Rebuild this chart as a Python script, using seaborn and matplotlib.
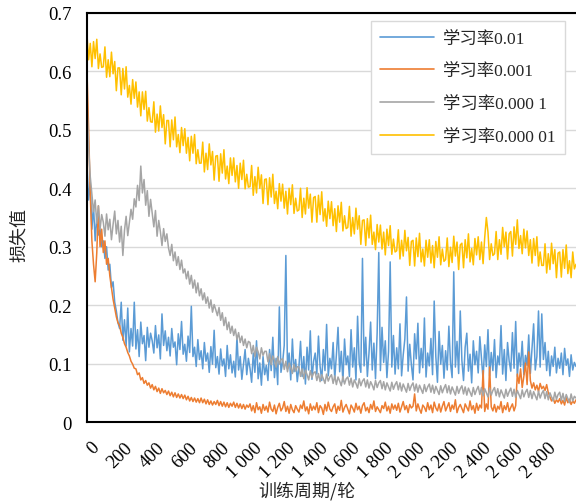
import numpy as np
import pandas as pd
import matplotlib
matplotlib.use("Agg")
import matplotlib.pyplot as plt
from matplotlib.transforms import ScaledTranslation
import seaborn as sns

# ---------------- data (one value every 10 epochs) ----------------
epochs = list(range(0, 3001, 10))

loss_lr_0_01 = [
    0.44, 0.38, 0.41, 0.33, 0.37, 0.31, 0.35, 0.32, 0.33, 0.30,
    0.31, 0.28, 0.30, 0.26, 0.27, 0.23, 0.24, 0.205, 0.19, 0.17,
    0.16, 0.205, 0.14, 0.175, 0.13, 0.195, 0.12, 0.16, 0.13, 0.205,
    0.125, 0.158, 0.112, 0.171, 0.134, 0.148, 0.105, 0.162, 0.128, 0.152,
    0.139, 0.118, 0.165, 0.127, 0.149, 0.108, 0.185, 0.131, 0.156, 0.122,
    0.145, 0.113, 0.16, 0.128, 0.137, 0.098, 0.151, 0.124, 0.172, 0.116,
    0.133, 0.104, 0.147, 0.119, 0.198, 0.112, 0.128, 0.095, 0.141, 0.107,
    0.122, 0.091, 0.136, 0.104, 0.118, 0.085, 0.129, 0.099, 0.157, 0.093,
    0.112, 0.082, 0.125, 0.096, 0.108, 0.078, 0.131, 0.091, 0.115, 0.084,
    0.104, 0.077, 0.146, 0.089, 0.112, 0.073, 0.098, 0.124, 0.081, 0.109,
    0.092, 0.068, 0.118, 0.085, 0.139, 0.074, 0.101, 0.063, 0.112, 0.081,
    0.097, 0.071, 0.124, 0.088, 0.145, 0.076, 0.109, 0.064, 0.197, 0.085,
    0.102, 0.131, 0.285, 0.091, 0.118, 0.072, 0.142, 0.086, 0.107, 0.069,
    0.094, 0.138, 0.078, 0.112, 0.065, 0.128, 0.089, 0.156, 0.073, 0.104,
    0.118, 0.082, 0.147, 0.095, 0.071, 0.124, 0.088, 0.167, 0.079, 0.109,
    0.091, 0.136, 0.074, 0.115, 0.162, 0.086, 0.121, 0.069, 0.142, 0.098,
    0.113, 0.078, 0.158, 0.094, 0.127, 0.072, 0.181, 0.101, 0.085, 0.28,
    0.096, 0.145, 0.078, 0.118, 0.171, 0.089, 0.135, 0.074, 0.152, 0.29,
    0.088, 0.162, 0.102, 0.139, 0.076, 0.121, 0.274, 0.094, 0.148, 0.082,
    0.127, 0.091, 0.168, 0.079, 0.115, 0.142, 0.214, 0.087, 0.133, 0.098,
    0.072, 0.151, 0.108, 0.169, 0.084, 0.126, 0.093, 0.178, 0.077, 0.118,
    0.096, 0.143, 0.081, 0.207, 0.112, 0.068, 0.155, 0.099, 0.131, 0.075,
    0.122, 0.089, 0.164, 0.101, 0.076, 0.257, 0.094, 0.138, 0.083, 0.19,
    0.105, 0.071, 0.128, 0.152, 0.087, 0.116, 0.067, 0.139, 0.098, 0.121,
    0.084, 0.146, 0.109, 0.073, 0.132, 0.095, 0.158, 0.079, 0.119, 0.088,
    0.141, 0.076, 0.113, 0.098, 0.165, 0.082, 0.124, 0.071, 0.136, 0.104,
    0.087, 0.153, 0.092, 0.172, 0.078, 0.118, 0.095, 0.138, 0.081, 0.114,
    0.097, 0.149, 0.083, 0.126, 0.168, 0.089, 0.112, 0.19, 0.094, 0.185,
    0.107, 0.136, 0.088, 0.121, 0.079, 0.113, 0.095, 0.128, 0.084, 0.109,
    0.092, 0.118, 0.081, 0.126, 0.097, 0.108, 0.078, 0.115, 0.089, 0.102,
    0.095,
]

loss_lr_0_001 = [
    0.60, 0.50, 0.39, 0.31, 0.27, 0.24, 0.29, 0.37, 0.30, 0.33,
    0.29, 0.31, 0.27, 0.28, 0.25, 0.23, 0.21, 0.195, 0.18, 0.17,
    0.165, 0.152, 0.145, 0.134, 0.128, 0.119, 0.113, 0.104, 0.099, 0.092,
    0.091, 0.081, 0.084, 0.072, 0.076, 0.066, 0.071, 0.063, 0.067, 0.058,
    0.064, 0.055, 0.061, 0.052, 0.058, 0.049, 0.057, 0.05, 0.054, 0.047,
    0.053, 0.045, 0.051, 0.043, 0.05, 0.042, 0.048, 0.041, 0.047, 0.04,
    0.046, 0.038, 0.044, 0.036, 0.042, 0.035, 0.041, 0.034, 0.04, 0.033,
    0.041, 0.033, 0.039, 0.031, 0.038, 0.03, 0.036, 0.029, 0.035, 0.03,
    0.037, 0.028, 0.035, 0.027, 0.034, 0.026, 0.033, 0.025, 0.032, 0.027,
    0.034, 0.025, 0.032, 0.024, 0.031, 0.023, 0.03, 0.022, 0.029, 0.025,
    0.031, 0.019, 0.028, 0.016, 0.033, 0.021, 0.026, 0.015, 0.03, 0.02,
    0.027, 0.017, 0.034, 0.022, 0.018, 0.029, 0.014, 0.025, 0.032, 0.019,
    0.024, 0.035, 0.018, 0.027, 0.015, 0.03, 0.021, 0.016, 0.028, 0.022,
    0.017, 0.029, 0.023, 0.036, 0.019, 0.026, 0.014, 0.031, 0.02, 0.027,
    0.021, 0.033, 0.016, 0.028, 0.024, 0.013, 0.03, 0.019, 0.034, 0.022,
    0.018, 0.026, 0.031, 0.015, 0.027, 0.02, 0.037, 0.017, 0.025, 0.03,
    0.022, 0.014, 0.029, 0.024, 0.017, 0.032, 0.021, 0.027, 0.015, 0.028,
    0.033, 0.019, 0.025, 0.016, 0.03, 0.022, 0.036, 0.018, 0.026, 0.021,
    0.016, 0.028, 0.023, 0.034, 0.019, 0.027, 0.015, 0.031, 0.022, 0.029,
    0.02, 0.032, 0.017, 0.026, 0.035, 0.021, 0.028, 0.016, 0.03, 0.024,
    0.027, 0.048, 0.019, 0.031, 0.022, 0.015, 0.029, 0.025, 0.018, 0.033,
    0.021, 0.029, 0.016, 0.034, 0.024, 0.019, 0.031, 0.017, 0.027, 0.035,
    0.019, 0.026, 0.033, 0.018, 0.029, 0.022, 0.038, 0.016, 0.025, 0.03,
    0.023, 0.016, 0.031, 0.025, 0.019, 0.036, 0.021, 0.028, 0.015, 0.032,
    0.02, 0.029, 0.024, 0.088, 0.018, 0.031, 0.022, 0.094, 0.026, 0.019,
    0.03, 0.017, 0.027, 0.022, 0.035, 0.016, 0.028, 0.021, 0.033, 0.018,
    0.025, 0.031, 0.019, 0.028, 0.082, 0.066, 0.091, 0.059, 0.078, 0.101,
    0.064, 0.12, 0.071, 0.058, 0.067, 0.055, 0.063, 0.052, 0.066, 0.057,
    0.061, 0.054, 0.064, 0.05, 0.043, 0.036, 0.041, 0.032, 0.038, 0.034,
    0.04, 0.031, 0.037, 0.029, 0.042, 0.033, 0.039, 0.03, 0.036, 0.032,
    0.038,
]

loss_lr_0_0001 = [
    0.55, 0.47, 0.42, 0.39, 0.36, 0.38, 0.34, 0.37, 0.33, 0.355,
    0.342, 0.318, 0.356, 0.329, 0.347, 0.312, 0.338, 0.361, 0.322, 0.345,
    0.308, 0.335, 0.285, 0.328, 0.352, 0.319, 0.341, 0.364, 0.347, 0.382,
    0.368, 0.405, 0.379, 0.438, 0.392, 0.415, 0.371, 0.396, 0.352, 0.381,
    0.358, 0.334, 0.362, 0.318, 0.345, 0.326, 0.302, 0.331, 0.309, 0.322,
    0.298, 0.285, 0.304, 0.276, 0.291, 0.268, 0.283, 0.261, 0.277, 0.255,
    0.262, 0.245, 0.258, 0.236, 0.251, 0.229, 0.243, 0.221, 0.238, 0.216,
    0.228, 0.209, 0.221, 0.203, 0.214, 0.195, 0.209, 0.188, 0.201, 0.192,
    0.182, 0.196, 0.174, 0.187, 0.165, 0.179, 0.158, 0.171, 0.152, 0.164,
    0.148, 0.159, 0.141, 0.153, 0.136, 0.147, 0.131, 0.142, 0.127, 0.138,
    0.136, 0.117, 0.131, 0.112, 0.128, 0.12, 0.108, 0.127, 0.114, 0.121,
    0.121, 0.103, 0.117, 0.098, 0.113, 0.106, 0.094, 0.112, 0.099, 0.107,
    0.108, 0.09, 0.104, 0.086, 0.101, 0.093, 0.083, 0.099, 0.087, 0.095,
    0.094, 0.078, 0.091, 0.074, 0.089, 0.081, 0.072, 0.088, 0.076, 0.084,
    0.086, 0.071, 0.083, 0.069, 0.081, 0.074, 0.066, 0.082, 0.07, 0.077,
    0.081, 0.066, 0.079, 0.064, 0.077, 0.07, 0.062, 0.078, 0.065, 0.074,
    0.077, 0.063, 0.075, 0.06, 0.072, 0.066, 0.058, 0.074, 0.062, 0.07,
    0.074, 0.06, 0.072, 0.058, 0.069, 0.063, 0.055, 0.071, 0.059, 0.067,
    0.071, 0.057, 0.069, 0.055, 0.067, 0.06, 0.053, 0.068, 0.056, 0.064,
    0.069, 0.055, 0.067, 0.053, 0.065, 0.058, 0.051, 0.066, 0.054, 0.062,
    0.067, 0.053, 0.065, 0.051, 0.063, 0.056, 0.049, 0.064, 0.052, 0.06,
    0.065, 0.051, 0.063, 0.049, 0.061, 0.054, 0.047, 0.062, 0.05, 0.058,
    0.064, 0.05, 0.062, 0.048, 0.06, 0.053, 0.046, 0.061, 0.049, 0.057,
    0.062, 0.048, 0.06, 0.046, 0.058, 0.051, 0.044, 0.059, 0.047, 0.055,
    0.061, 0.047, 0.059, 0.045, 0.057, 0.05, 0.043, 0.058, 0.046, 0.054,
    0.059, 0.045, 0.057, 0.043, 0.055, 0.048, 0.041, 0.056, 0.044, 0.052,
    0.058, 0.044, 0.056, 0.042, 0.054, 0.047, 0.04, 0.055, 0.043, 0.051,
    0.056, 0.042, 0.054, 0.04, 0.052, 0.045, 0.038, 0.053, 0.041, 0.049,
    0.054, 0.04, 0.052, 0.038, 0.05, 0.043, 0.036, 0.051, 0.039, 0.047,
    0.051, 0.037, 0.049, 0.035, 0.047, 0.04, 0.033, 0.048, 0.036, 0.044,
    0.041,
]

loss_lr_0_00001 = [
    0.662, 0.620, 0.648, 0.608, 0.651, 0.622, 0.655, 0.605, 0.630, 0.607,
    0.608, 0.642, 0.590, 0.620, 0.591, 0.633, 0.596, 0.617, 0.567, 0.606,
    0.606, 0.560, 0.605, 0.570, 0.608, 0.556, 0.576, 0.544, 0.586, 0.554,
    0.582, 0.539, 0.565, 0.524, 0.565, 0.535, 0.566, 0.515, 0.538, 0.514,
    0.513, 0.548, 0.496, 0.527, 0.498, 0.541, 0.504, 0.526, 0.476, 0.516,
    0.516, 0.471, 0.517, 0.483, 0.522, 0.471, 0.492, 0.461, 0.504, 0.473,
    0.502, 0.460, 0.487, 0.447, 0.489, 0.460, 0.492, 0.442, 0.466, 0.443,
    0.443, 0.479, 0.428, 0.460, 0.432, 0.476, 0.440, 0.463, 0.414, 0.455,
    0.456, 0.412, 0.459, 0.426, 0.466, 0.416, 0.438, 0.408, 0.452, 0.422,
    0.452, 0.411, 0.439, 0.400, 0.443, 0.415, 0.448, 0.399, 0.424, 0.402,
    0.403, 0.439, 0.388, 0.420, 0.392, 0.436, 0.400, 0.423, 0.374, 0.415,
    0.416, 0.372, 0.418, 0.385, 0.424, 0.374, 0.395, 0.365, 0.408, 0.378,
    0.407, 0.366, 0.395, 0.356, 0.400, 0.372, 0.406, 0.357, 0.383, 0.361,
    0.363, 0.400, 0.350, 0.383, 0.356, 0.401, 0.366, 0.390, 0.342, 0.384,
    0.386, 0.342, 0.388, 0.355, 0.394, 0.344, 0.365, 0.335, 0.378, 0.348,
    0.377, 0.336, 0.365, 0.326, 0.370, 0.342, 0.376, 0.327, 0.353, 0.331,
    0.333, 0.369, 0.318, 0.350, 0.322, 0.366, 0.330, 0.353, 0.304, 0.345,
    0.346, 0.302, 0.348, 0.315, 0.354, 0.304, 0.325, 0.295, 0.338, 0.308,
    0.337, 0.296, 0.325, 0.286, 0.330, 0.302, 0.336, 0.287, 0.313, 0.291,
    0.293, 0.329, 0.279, 0.311, 0.284, 0.328, 0.293, 0.316, 0.268, 0.309,
    0.311, 0.267, 0.315, 0.283, 0.323, 0.274, 0.296, 0.267, 0.311, 0.282,
    0.312, 0.272, 0.302, 0.264, 0.309, 0.282, 0.317, 0.269, 0.296, 0.275,
    0.278, 0.315, 0.266, 0.299, 0.273, 0.318, 0.284, 0.308, 0.261, 0.303,
    0.306, 0.264, 0.312, 0.281, 0.322, 0.274, 0.297, 0.269, 0.314, 0.286,
    0.317, 0.278, 0.308, 0.271, 0.316, 0.350, 0.325, 0.278, 0.305, 0.285,
    0.288, 0.326, 0.278, 0.312, 0.287, 0.333, 0.300, 0.325, 0.279, 0.322,
    0.326, 0.284, 0.334, 0.304, 0.346, 0.297, 0.319, 0.288, 0.330, 0.298,
    0.327, 0.285, 0.312, 0.272, 0.314, 0.285, 0.317, 0.267, 0.291, 0.268,
    0.268, 0.305, 0.255, 0.288, 0.261, 0.306, 0.271, 0.295, 0.247, 0.289,
    0.291, 0.248, 0.295, 0.263, 0.303, 0.254, 0.276, 0.247, 0.291, 0.262,
    0.270,
]

series_names = ["学习率0.01", "学习率0.001", "学习率0.000 1", "学习率0.000 01"]
series_values = [loss_lr_0_01, loss_lr_0_001, loss_lr_0_0001, loss_lr_0_00001]
colors = ["#5B9BD5", "#ED7D31", "#A5A5A5", "#FFC000"]

x_tick_values = list(range(0, 2801, 200))
x_tick_labels = ["0", "200", "400", "600", "800", "1 000", "1 200", "1 400", "1 600",
                 "1 800", "2 000", "2 200", "2 400", "2 600", "2 800"]
y_tick_values = [0, 0.1, 0.2, 0.3, 0.4, 0.5, 0.6, 0.7]
y_tick_labels = ["0", "0.1", "0.2", "0.3", "0.4", "0.5", "0.6", "0.7"]

x_label = "训练周期/轮"
y_label = "损失值"

# ---------------- build long table ----------------
frames = []
for name, vals in zip(series_names, series_values):
    frames.append(pd.DataFrame({"epoch": epochs, "loss": vals, "series": name}))
df = pd.concat(frames, ignore_index=True)

sns.set_theme(style="white")
plt.rcParams["font.family"] = ["Liberation Serif", "Noto Sans CJK SC", "DejaVu Sans"]

fig = plt.figure(figsize=(5.76, 5.02), dpi=100)
ax = fig.add_axes([87 / 576, 1 - 423 / 502, 1 - 87 / 576, (423 - 14) / 502])

sns.lineplot(data=df, x="epoch", y="loss", hue="series", hue_order=series_names,
             palette=dict(zip(series_names, colors)), estimator=None, sort=False,
             linewidth=1.1, ax=ax, legend=True)

ax.set_xlim(0, 3000)
ax.set_ylim(0, 0.7)
ax.set_xticks(x_tick_values)
ax.set_xticklabels(x_tick_labels)
ax.set_yticks(y_tick_values)
ax.set_yticklabels(y_tick_labels)

ax.grid(axis="y", color="#D9D9D9", linewidth=1.0)
ax.grid(axis="x", visible=False)
ax.set_axisbelow(True)

for side in ["left", "bottom", "top"]:
    ax.spines[side].set_visible(True)
    ax.spines[side].set_color("#000000")
    ax.spines[side].set_linewidth(1.5)
ax.spines["right"].set_visible(False)

ax.tick_params(axis="both", length=0, labelsize=13.5, colors="#000000")
ax.tick_params(axis="y", pad=11)
ax.tick_params(axis="x", pad=12)
shift = ScaledTranslation(4 / 100, 0, fig.dpi_scale_trans)
for lbl in ax.get_xticklabels():
    lbl.set_rotation(45)
    lbl.set_ha("right")
    lbl.set_va("top")
    lbl.set_rotation_mode("anchor")
    lbl.set_transform(lbl.get_transform() + shift)

ax.set_xlabel("")
ax.set_ylabel("")
fig.text(307 / 576, 1 - 491 / 502, x_label, ha="center", va="center", fontsize=13,
         family=["Noto Sans CJK SC", "DejaVu Sans"])
fig.text(19 / 576, 1 - 235 / 502, y_label, ha="center", va="center", rotation=90,
         fontsize=13, family=["Noto Sans CJK SC", "DejaVu Sans"])

handles, labels = ax.get_legend_handles_labels()
leg = ax.legend(handles, labels, loc="upper right", bbox_to_anchor=(565 / 576, 1 - 22 / 502),
                bbox_transform=fig.transFigure, borderaxespad=0, frameon=True, fancybox=False,
                fontsize=12.5, handlelength=3.1, handletextpad=0.5, labelspacing=0.95,
                borderpad=0.55, framealpha=1)
leg.get_frame().set_edgecolor("#D9D9D9")
leg.get_frame().set_linewidth(1.0)
for line in leg.get_lines():
    line.set_linewidth(1.2)

fig.savefig("out.png", dpi=100)
